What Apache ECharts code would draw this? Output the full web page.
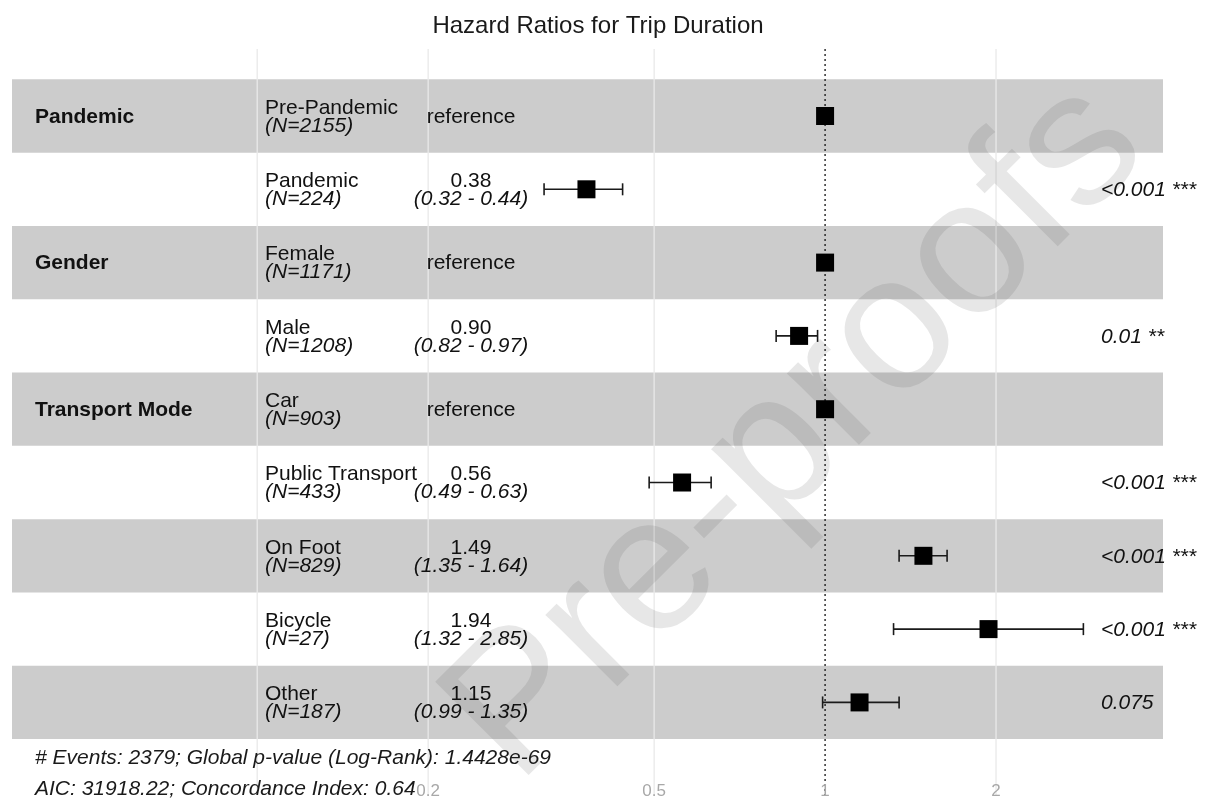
<!DOCTYPE html>
<html>
<head>
<meta charset="utf-8">
<script src="https://cdn.jsdelivr.net/npm/echarts@6/dist/echarts.min.js"></script>
<style>
html,body{margin:0;padding:0;background:#fff;}
#chart{width:1210px;height:799px;}
</style>
</head>
<body>
<div id="chart"></div>
<script>
// ---- data ----
const variables = ['Pandemic', '', 'Gender', '', 'Transport Mode', '', '', '', ''];
const levels = ['Pre-Pandemic', 'Pandemic', 'Female', 'Male', 'Car', 'Public Transport', 'On Foot', 'Bicycle', 'Other'];
const counts = [2155, 224, 1171, 1208, 903, 433, 829, 27, 187];
const hazardRatios = [1, 0.38, 1, 0.90, 1, 0.56, 1.49, 1.94, 1.15];
const ciLow = [null, 0.32, null, 0.82, null, 0.49, 1.35, 1.32, 0.99];
const ciHigh = [null, 0.44, null, 0.97, null, 0.63, 1.64, 2.85, 1.35];
const pLabels = ['', '<0.001 ***', '', '0.01 **', '', '<0.001 ***', '<0.001 ***', '<0.001 ***', '0.075'];
const tickValues = [0.2, 0.5, 1, 2];
const tickLabels = ['0.2', '0.5', '1', '2'];
const gridValues = [0.1, 0.2, 0.5, 2];
const referenceValue = 1;
const nEvents = 2379;
const globalP = '1.4428e-69';
const aic = '31918.22';
const concordance = '0.64';
const titleText = 'Hazard Ratios for Trip Duration';
const watermarkText = 'Pre-proofs';

// ---- layout constants ----
const FONT = '"Liberation Sans", Arial, Helvetica, sans-serif';
const X_MIN = 0.037, X_MAX = 3.936;
const Y_MIN = -0.914, Y_MAX = 9.263;
const TICK_ROW = 9.21;
const FS = 21;

const chart = echarts.init(document.getElementById('chart'), null, {renderer: 'canvas'});

const rowIdx = levels.map((_, i) => [referenceValue, i]);
const bandRows = rowIdx.filter((d) => d[1] % 2 === 0);
const ciData = [];
hazardRatios.forEach((h, i) => { if (ciLow[i] != null) ciData.push([ciLow[i], ciHigh[i], i]); });
const pointData = hazardRatios.map((h, i) => [h, i]);

const option = {
  animation: false,
  backgroundColor: '#ffffff',
  title: {
    text: titleText,
    left: 593,
    top: 9,
    textAlign: 'center',
    textStyle: {fontFamily: FONT, fontSize: 24, fontWeight: 'normal', color: '#1a1a1a'}
  },
  grid: {left: 12, right: 47, top: 49, bottom: 4, containLabel: false},
  xAxis: {type: 'log', logBase: 2, min: X_MIN, max: X_MAX, show: false},
  yAxis: {type: 'value', inverse: true, min: Y_MIN, max: Y_MAX, show: false},
  graphic: [
    {
      type: 'text', left: 35, top: 748, z: 7,
      style: {text: '# Events: ' + nEvents + '; Global p-value (Log-Rank): ' + globalP,
        fontFamily: FONT, fontSize: FS, fontStyle: 'italic', fill: '#1a1a1a'}
    },
    {
      type: 'text', left: 35, top: 779, z: 7,
      style: {text: 'AIC: ' + aic + '; Concordance Index: ' + concordance,
        fontFamily: FONT, fontSize: FS, fontStyle: 'italic', fill: '#1a1a1a'}
    },
    {
      type: 'text', x: 797, y: 432, rotation: 45 * Math.PI / 180, z: 3, silent: true,
      style: {text: watermarkText, fontFamily: FONT, fontSize: 192, fill: 'rgba(85,85,85,0.14)',
        align: 'center', verticalAlign: 'middle'}
    }
  ],
  series: [
    { // alternating bands
      type: 'custom', z: 1, data: bandRows, silent: true,
      renderItem: function (params, api) {
        const i = api.value(1);
        const p1 = api.coord([X_MIN, i - 0.5]);
        const p2 = api.coord([X_MAX, i + 0.5]);
        return {type: 'rect', shape: {x: p1[0], y: p1[1], width: p2[0] - p1[0], height: p2[1] - p1[1]},
          style: {fill: '#cccccc'}};
      }
    },
    { // vertical grid lines
      type: 'custom', z: 2, data: gridValues.map((v) => [v]), silent: true,
      renderItem: function (params, api) {
        const v = api.value(0);
        const a = api.coord([v, Y_MIN]);
        const b = api.coord([v, Y_MAX]);
        return {type: 'line', shape: {x1: a[0], y1: a[1], x2: b[0], y2: b[1]},
          style: {stroke: '#e9e9e9', lineWidth: 1.3}};
      }
    },
    { // reference line at HR = 1
      type: 'custom', z: 4, data: [[referenceValue]], silent: true,
      renderItem: function (params, api) {
        const v = api.value(0);
        const a = api.coord([v, Y_MIN]);
        const b = api.coord([v, Y_MAX]);
        return {type: 'line', shape: {x1: a[0], y1: a[1], x2: b[0], y2: b[1]},
          style: {stroke: '#111111', lineWidth: 1.3, lineDash: [2, 3]}};
      }
    },
    { // confidence intervals
      type: 'custom', z: 5, data: ciData, silent: true,
      encode: {x: [0, 1], y: 2},
      renderItem: function (params, api) {
        const i = api.value(2);
        const a = api.coord([api.value(0), i]);
        const b = api.coord([api.value(1), i]);
        const cap = 6;
        const st = {stroke: '#1a1a1a', lineWidth: 1.6};
        return {type: 'group', children: [
          {type: 'line', shape: {x1: a[0], y1: a[1], x2: b[0], y2: b[1]}, style: st},
          {type: 'line', shape: {x1: a[0], y1: a[1] - cap, x2: a[0], y2: a[1] + cap}, style: st},
          {type: 'line', shape: {x1: b[0], y1: b[1] - cap, x2: b[0], y2: b[1] + cap}, style: st}
        ]};
      }
    },
    { // point estimates
      type: 'scatter', z: 6, data: pointData, symbol: 'rect', symbolSize: 18,
      itemStyle: {color: '#000000', opacity: 1}, silent: true
    },
    { // table text
      type: 'custom', z: 7, data: rowIdx, silent: true,
      renderItem: function (params, api) {
        const i = api.value(1);
        const y = api.coord([referenceValue, i])[1];
        const base = {fontFamily: FONT, fontSize: FS, fill: '#111111', verticalAlign: 'middle'};
        const ch = [];
        if (variables[i]) {
          ch.push({type: 'text', style: Object.assign({}, base, {text: variables[i], x: 35, y: y + 1, fontWeight: 'bold', align: 'left'})});
        }
        ch.push({type: 'text', style: Object.assign({}, base, {text: levels[i], x: 265, y: y - 8, align: 'left'})});
        ch.push({type: 'text', style: Object.assign({}, base, {text: '(N=' + counts[i] + ')', x: 265, y: y + 10, align: 'left', fontStyle: 'italic'})});
        if (ciLow[i] == null) {
          ch.push({type: 'text', style: Object.assign({}, base, {text: 'reference', x: 471, y: y + 1, align: 'center'})});
        } else {
          ch.push({type: 'text', style: Object.assign({}, base, {text: hazardRatios[i].toFixed(2), x: 471, y: y - 8, align: 'center'})});
          ch.push({type: 'text', style: Object.assign({}, base, {text: '(' + ciLow[i].toFixed(2) + ' - ' + ciHigh[i].toFixed(2) + ')', x: 471, y: y + 10, align: 'center', fontStyle: 'italic'})});
        }
        if (pLabels[i]) {
          ch.push({type: 'text', style: Object.assign({}, base, {text: pLabels[i], x: 1101, y: y + 1, align: 'left', fontStyle: 'italic'})});
        }
        return {type: 'group', children: ch};
      }
    },
    { // x tick labels
      type: 'custom', z: 7, data: tickValues.map((v, k) => [v, k]), silent: true,
      renderItem: function (params, api) {
        const p = api.coord([api.value(0), TICK_ROW]);
        return {type: 'text', style: {text: tickLabels[api.value(1)], x: p[0], y: p[1],
          fontFamily: FONT, fontSize: 17, fill: '#a8a8a8', align: 'center', verticalAlign: 'middle'}};
      }
    }
  ]
};
chart.setOption(option);
</script>
</body>
</html>
